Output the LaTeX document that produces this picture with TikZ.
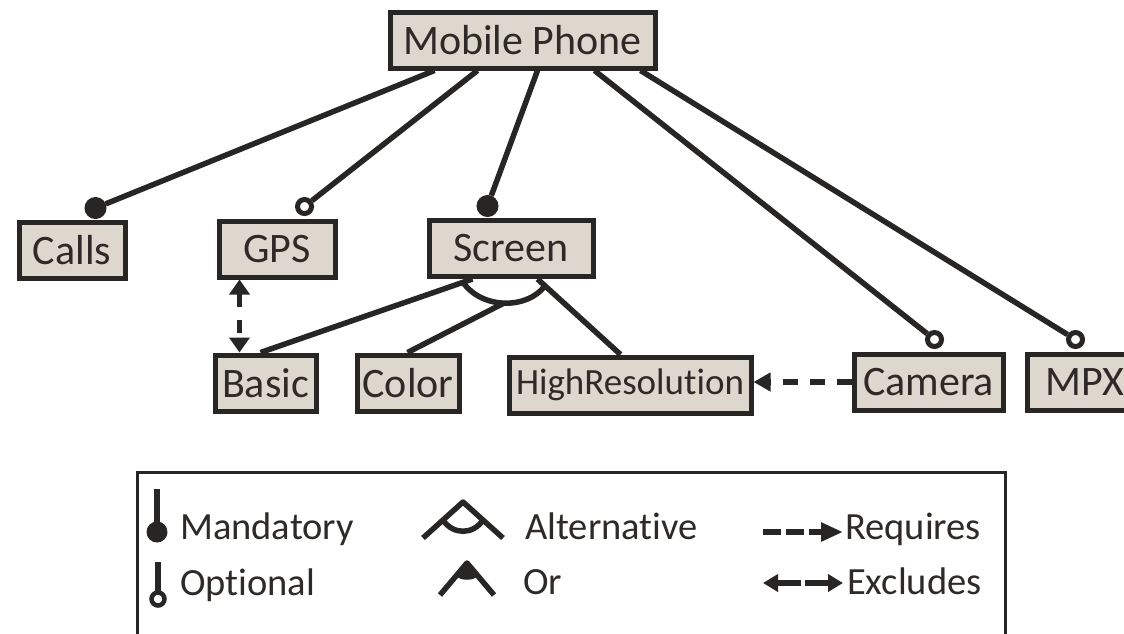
\documentclass[tikz,border=0pt]{standalone}
\usepackage{fontspec}
\setmainfont{Carlito}[Ligatures={NoCommon,NoRequired,NoContextual},Contextuals={NoAlternate},RawFeature={-liga;-clig;-calt;-dlig}]
\usetikzlibrary{arrows.meta,calc}
\definecolor{dk}{RGB}{40,38,36}
\definecolor{tx}{RGB}{45,42,40}
\definecolor{bx}{RGB}{222,215,206}
\begin{document}
\begin{tikzpicture}[x=1pt,y=-1pt,
 feat/.style={draw=dk, fill=bx, line width=5pt, inner sep=0pt, text=tx, font=\fontsize{42}{50}\selectfont, minimum height=56pt},
 ln/.style={draw=dk, line width=5.5pt},
 mand/.style={circle, fill=dk, draw=dk, line width=1pt, inner sep=0pt, minimum size=21pt},
 opt/.style={circle, fill=white, draw=dk, line width=5pt, inner sep=0pt, minimum size=14pt},
 lgtext/.style={anchor=base west, text=tx, font=\fontsize{38.5}{46}\selectfont, inner sep=0pt}]
\useasboundingbox (0,0) rectangle (1124,633);
\clip (0,0) rectangle (1124,633);
% features
\node[feat, minimum width=265pt] (mp) at (522.5,40) {Mobile Phone};
\node[feat, minimum width=106pt] (calls) at (72,250.5) {Calls};
\node[feat, minimum width=116pt] (gps) at (277,249) {GPS};
\node[feat, minimum width=164pt] (screen) at (511,248.5) {Screen};
\node[feat, minimum width=101pt] (basic) at (265.5,383) {Basic};
\node[feat, minimum width=102pt] (color) at (408,383) {Color};
\node[feat, minimum width=242pt, font=\fontsize{37}{44}\selectfont] (hr) at (630,385) {HighResolution};
\node[feat, minimum width=149pt] (camera) at (928.5,382) {Camera};
\node[feat, minimum width=116pt] (mpx) at (1085,382) {MPX};
% end circles
\node[mand] (k1) at ([xshift=79pt,yshift=12pt]calls.north west) {};
\node[opt]  (k2) at ([xshift=88pt,yshift=12pt]gps.north west) {};
\node[mand] (k3) at ([xshift=61pt,yshift=12pt]screen.north west) {};
\node[opt]  (k4) at ([xshift=83pt,yshift=12pt]camera.north west) {};
\node[opt]  (k5) at ([xshift=51pt,yshift=12pt]mpx.north west) {};
\draw[ln] ([xshift=47pt]mp.south west) -- (k1);
\draw[ln] ([xshift=90pt]mp.south west) -- (k2);
\draw[ln] ([xshift=150pt]mp.south west) -- (k3);
\draw[ln] ([xshift=207pt]mp.south west) -- (k4);
\draw[ln] ([xshift=253pt]mp.south west) -- (k5);
% alternative group under Screen
\coordinate (s1) at ([xshift=46pt]screen.south west);
\coordinate (s2) at ([xshift=111pt]screen.south west);
\coordinate (b1) at ([xshift=48pt]basic.north west);
\coordinate (h1) at ([xshift=114pt]hr.north west);
\draw[ln] (s1) -- (b1);
\draw[ln] (s2) -- (h1);
\coordinate (aL) at ($(s1)!0.045!(b1)$);
\coordinate (aR) at ($(s2)!0.09!(h1)$);
\draw[ln] (aL) .. controls ($(aL)+(19,27)$) and ($(aR)+(-18,24)$) .. (aR);
\coordinate (aM) at ($(aL)!0.5!(aR)+(0,19)$);
\draw[ln] ([xshift=53pt]color.north west) -- (aM);
% cross-tree constraints
\draw[ln, dash pattern=on 13pt off 13pt, {Triangle[length=15pt,width=20pt]}-{Triangle[length=15pt,width=20pt]}]
  ([xshift=23pt]gps.south west) -- ([xshift=27pt]basic.north west);
\draw[ln, dash pattern=on 15pt off 12pt, -{Triangle[length=17pt,width=18pt]}]
  (camera.west) -- (camera.west -| hr.east);
% legend
\draw[draw=dk, line width=3pt] (137,472) rectangle (1005,660);
\draw[ln, line width=5.5pt] (157,489) -- (157,525);
\fill[dk] (157,532) circle[radius=10.5pt];
\draw[ln, line width=5.5pt] (158,562) -- (158,592);
\draw[dk, line width=4.5pt, fill=white] (158,599) circle[radius=6.5pt];
\draw[ln, line join=round] (423,538) -- (463,502) -- (503,538);
\draw[ln] (443,520) .. controls (453,535) and (473,535) .. (483,520);
\draw[ln, line join=round] (440,595) -- (467,563) -- (494,595);
\fill[dk] (467,563) -- (456,576) .. controls (461,581) and (473,581) .. (478,576) -- cycle;
\draw[ln, dash pattern=on 18pt off 5pt, -{Triangle[length=22pt,width=18pt]}] (763,532) -- (843,532);
\draw[ln, -{Triangle[length=15pt,width=17pt]}] (801,583) -- (763,583);
\draw[ln, -{Triangle[length=15pt,width=17pt]}] (805,583) -- (843,583);
\node[lgtext] (lm) at (180,539) {Mandatory};
\node[lgtext] (lo) at (180,595) {Optional};
\node[lgtext] (la) at (525,539) {Alternative};
\node[lgtext] (lor) at (523,594) {Or};
\node[lgtext] (lr) at (845,539) {Requires};
\node[lgtext] (le) at (847,594) {Excludes};
\end{tikzpicture}
\end{document}
